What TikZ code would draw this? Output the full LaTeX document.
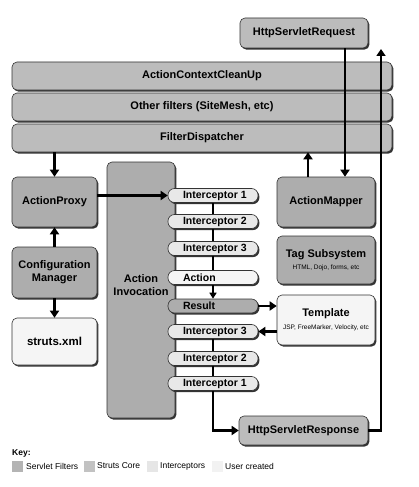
\documentclass[tikz,border=0pt]{standalone}
\usepackage{fontspec}
\setmainfont{Liberation Sans}
\usetikzlibrary{shadows,arrows.meta,calc}
\definecolor{filt}{HTML}{BCBCBC}
\definecolor{core}{HTML}{ADADAD}
\definecolor{icp}{HTML}{E8E8E8}
\definecolor{usr}{HTML}{F5F5F5}
\definecolor{keyfilt}{HTML}{B4B4B4}
\definecolor{keycore}{HTML}{C2C2C2}
\definecolor{keyicp}{HTML}{E6E6E6}
\definecolor{keyusr}{HTML}{F2F2F2}
\newcommand{\icl}[1]{\makebox[64pt][l]{\hspace*{2pt}#1}}
\begin{document}
\begin{tikzpicture}[x=1pt,y=-1pt,
  base/.style={draw=black!80, line width=0.6pt, rounded corners=5pt,
    drop shadow={shadow xshift=1.4pt, shadow yshift=-1.6pt, fill=black!80, opacity=1},
    font=\bfseries\fontsize{11}{13}\selectfont, align=center, inner sep=0pt},
  filterbox/.style={base, fill=filt},
  corebox/.style={base, fill=core},
  userbox/.style={base, fill=usr},
  icpt/.style={base, rounded corners=6.5pt, fill=icp, minimum width=90pt, minimum height=14pt,
    font=\bfseries\fontsize{10.5}{12}\selectfont},
  arr/.style={line width=2.6pt, -{Triangle[width=9pt,length=7pt]}},
  thinline/.style={line width=1.8pt},
  thinarr/.style={line width=1.6pt, -{Triangle[width=7pt,length=6pt]}},
  keytext/.style={font=\fontsize{8.5}{10}\selectfont, anchor=west, inner sep=0pt},
  swatch/.style={minimum width=11pt, minimum height=11pt, inner sep=0pt}
]
\useasboundingbox[fill=white] (0,0) rectangle (418,487);

% filters
\node[filterbox, minimum width=380pt, minimum height=28pt] (acc) at (202,76) {ActionContextCleanUp};
\node[filterbox, minimum width=380pt, minimum height=28pt] (oth) at (202,107) {Other filters (SiteMesh, etc)};
\node[filterbox, minimum width=380pt, minimum height=28pt] (fd) at (202,138) {FilterDispatcher};
\node[filterbox, minimum width=128pt, minimum height=30pt] (req) at (304,33) {HttpServletRequest};

% left column
\node[corebox, minimum width=85pt, minimum height=50pt] (proxy) at (54.5,202) {ActionProxy};
\node[corebox, minimum width=85pt, minimum height=51pt] (cfg) at (54.5,272.5) {Configuration\\Manager};
\node[userbox, minimum width=85pt, minimum height=47pt, font=\bfseries\fontsize{11.5}{13}\selectfont] (struts) at (54.5,341.5) {struts.xml};

% action invocation
\node[corebox, minimum width=68pt, minimum height=256pt] (ai) at (141,290) {};
\node[font=\bfseries\fontsize{11}{13}\selectfont, align=center, inner sep=0pt] (aitext) at (141,285) {Action\\Invocation};

% right column
\node[corebox, minimum width=98pt, minimum height=50pt] (mapper) at (326,202) {ActionMapper};
\node[corebox, minimum width=98pt, minimum height=48pt] (tag) at (326,260) {Tag Subsystem\\[-1pt]{\mdseries\fontsize{6.5}{8}\selectfont HTML, Dojo, forms, etc}};
\node[userbox, minimum width=98pt, minimum height=50pt] (tmpl) at (326,320) {Template\\[0pt]{\mdseries\fontsize{6.5}{8}\selectfont JSP, FreeMarker, Velocity, etc}};
\node[filterbox, minimum width=129pt, minimum height=29pt] (resp) at (303.5,430.5) {HttpServletResponse};

% interceptors
\node[icpt] (i1) at (213,195.5) {\icl{Interceptor 1}};
\node[icpt] (i2) at (213,221.5) {\icl{Interceptor 2}};
\node[icpt] (i3) at (213,248.5) {\icl{Interceptor 3}};
\node[icpt, fill=usr] (act) at (213,277.5) {\icl{Action}};
\node[icpt, fill=core] (res) at (213,306) {\icl{Result}};
\node[icpt] (ri3) at (213,331.5) {\icl{Interceptor 3}};
\node[icpt] (ri2) at (213,358.5) {\icl{Interceptor 2}};
\node[icpt] (ri1) at (213,383.5) {\icl{Interceptor 1}};

\draw[thinline] (i1.south) -- (i2.north);
\draw[thinline] (i2.south) -- (i3.north);
\draw[thinline] (i3.south) -- (act.north);
\draw[thinarr] (act.south) -- (res.north);
\draw[thinline] (ri3.south) -- (ri2.north);
\draw[thinline] (ri2.south) -- (ri1.north);

% arrows
\draw[arr] (proxy.north |- fd.south) -- (proxy.north);
\draw[arr] (cfg.north) -- (proxy.south);
\draw[arr] (cfg.south) -- (struts.north);
\draw[arr] (i1.west -| proxy.east) -- (i1.west);
\draw[arr] ([xshift=-18pt]mapper.north) -- ([xshift=-18pt]mapper.north |- fd.south);
\draw[arr] ([xshift=41pt]req.south) -- ([xshift=41pt]req.south |- mapper.north);
\draw[arr] (res.east) -- (tmpl.west |- res.east);
\draw[arr] (tmpl.west |- ri3.east) -- (ri3.east);
\draw[arr] (ri1.south) |- (resp.west);
\coordinate (upend) at (381,49);
\draw[arr] (resp.east) -| (upend);

% key
\node[font=\bfseries\fontsize{8.5}{10}\selectfont, anchor=west, inner sep=0pt] (key) at (12,453) {Key:};
\node[swatch, fill=keyfilt] (s1) at (17.5,466) {};
\node[keytext] (t1) at (26,466) {Servlet Filters};
\node[swatch, fill=keycore] (s2) at (89.5,466) {};
\node[keytext] (t2) at (97,466) {Struts Core};
\node[swatch, fill=keyicp] (s3) at (152,466) {};
\node[keytext] (t3) at (160,466) {Interceptors};
\node[swatch, fill=keyusr] (s4) at (217,466) {};
\node[keytext] (t4) at (225,466) {User created};
\end{tikzpicture}
\end{document}
